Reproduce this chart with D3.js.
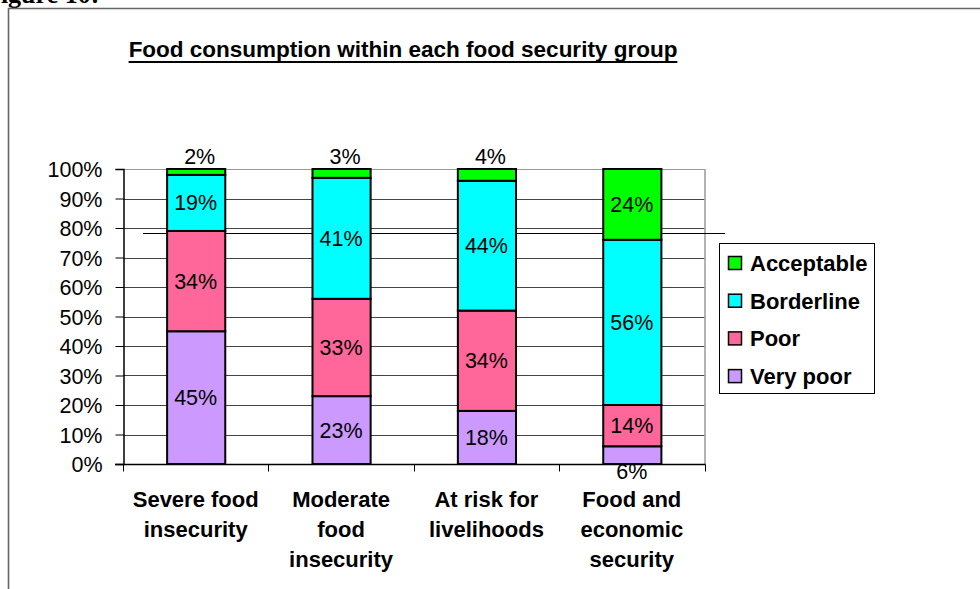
<!DOCTYPE html>
<html>
<head>
<meta charset="utf-8">
<script src="https://cdn.jsdelivr.net/npm/d3@7"></script>
<style>
  html, body { margin: 0; padding: 0; background: #fff; }
  svg { display: block; }
  text { font-family: "Liberation Sans", Arial, sans-serif; fill: #000; }
</style>
</head>
<body>
<script>
// Food consumption groups (stack order bottom to top)
const groups = ["Very poor", "Poor", "Borderline", "Acceptable"];
const groupColors = ["#CC99FF", "#FF6699", "#00FFFF", "#00FF00"];

// Food security categories (x axis), each label split into lines
const categories = [
  ["Severe food", "insecurity"],
  ["Moderate", "food", "insecurity"],
  ["At risk for", "livelihoods"],
  ["Food and", "economic", "security"]
];

// Share (%) of each consumption group per category
const veryPoor   = [45, 23, 18, 6];
const poor       = [34, 33, 34, 14];
const borderline = [19, 41, 44, 56];
const acceptable = [2, 3, 4, 24];

const yTicks = [0, 10, 20, 30, 40, 50, 60, 70, 80, 90, 100];
const chartTitle = "Food consumption within each food security group";
const figureCaption = "Figure 10:";

const W = 980, H = 589;
const svg = d3.select("body").append("svg").attr("width", W).attr("height", H);

// Caption above the framed figure (partly clipped at page edge)
svg.append("text")
  .attr("x", -15).attr("y", 3)
  .style("font-family", "'Liberation Serif', 'Times New Roman', serif")
  .style("font-weight", "bold").style("font-size", "26px")
  .text(figureCaption);

// Figure frame
svg.append("path")
  .attr("d", `M8.5,${H} V8.5 H${W}`)
  .attr("fill", "none").attr("stroke", "#666").attr("stroke-width", 1.6);

// Title
const title = svg.append("text")
  .attr("x", 403).attr("y", 57)
  .attr("text-anchor", "middle")
  .style("font-weight", "bold").style("font-size", "22.5px")
  .text(chartTitle);
const tb = title.node().getBBox();
svg.append("line")
  .attr("x1", tb.x).attr("x2", tb.x + tb.width)
  .attr("y1", 62).attr("y2", 62)
  .attr("stroke", "#000").attr("stroke-width", 1.8);

// Plot area
const plot = { left: 123, right: 704.5, top: 169, bottom: 464 };

const x = d3.scaleBand()
  .domain(d3.range(categories.length))
  .range([plot.left, plot.right])
  .paddingInner(0.6).paddingOuter(0.3);

const y = d3.scaleLinear().domain([0, 100]).range([plot.bottom, plot.top]);

// Gridlines
svg.append("g").selectAll("line").data(yTicks.slice(1)).join("line")
  .attr("x1", plot.left).attr("x2", plot.right)
  .attr("y1", d => Math.round(y(d)) + 0.5).attr("y2", d => Math.round(y(d)) + 0.5)
  .attr("stroke", d => d === 100 ? "#999" : "#444").attr("stroke-width", 1);

// Plot area right border
svg.append("line")
  .attr("x1", plot.right + 0.5).attr("x2", plot.right + 0.5)
  .attr("y1", plot.top).attr("y2", plot.bottom)
  .attr("stroke", "#999").attr("stroke-width", 1.5);

// Stray rule across the plot area
svg.append("line")
  .attr("x1", 143).attr("x2", 725).attr("y1", 233.5).attr("y2", 233.5)
  .attr("stroke", "#000").attr("stroke-width", 1);

// Stacked data
const table = categories.map((c, i) => ({
  "Very poor": veryPoor[i], "Poor": poor[i],
  "Borderline": borderline[i], "Acceptable": acceptable[i], idx: i
}));
const stacked = d3.stack().keys(groups)(table);

const layers = svg.append("g").selectAll("g").data(stacked).join("g")
  .attr("fill", (d, i) => groupColors[i]);

layers.selectAll("rect").data(d => d).join("rect")
  .attr("x", d => x(d.data.idx) + 0.5)
  .attr("width", x.bandwidth())
  .attr("y", d => y(d[1]))
  .attr("height", d => y(d[0]) - y(d[1]))
  .attr("stroke", "#000").attr("stroke-width", 2);

// Value labels
const labels = svg.append("g");
stacked.forEach(layer => {
  layer.forEach(d => {
    const v = d[1] - d[0];
    const cx = x(d.data.idx) + x.bandwidth() / 2;
    let ly;
    if (v < 5) ly = y(d[1]) - 5;          // tiny top segment: above the bar
    else if (v < 10) ly = y(d[0]) + 15;   // tiny bottom segment: below the axis
    else ly = (y(d[0]) + y(d[1])) / 2 + 7.5;
    labels.append("text")
      .attr("x", cx + (v < 5 ? 4 : 0)).attr("y", ly)
      .attr("text-anchor", "middle")
      .style("font-size", "21.5px")
      .text(v + "%");
  });
});

// Y axis
const yAxis = d3.axisLeft(y).tickValues(yTicks).tickSize(8).tickFormat(d => d + "%");
const gy = svg.append("g").attr("transform", `translate(${plot.left + 0.5},0)`).call(yAxis);
gy.select(".domain").attr("stroke", "#000").attr("stroke-width", 1.5);
gy.selectAll(".tick line").attr("stroke", "#000");
gy.selectAll(".tick text")
  .attr("x", -21).attr("dy", "0.35em")
  .style("font-size", "21.5px").style("font-family", "'Liberation Sans', Arial, sans-serif");

// X axis line with ticks at category boundaries
const xBase = Math.round(plot.bottom) + 0.5;
svg.append("line")
  .attr("x1", plot.left - 8).attr("x2", plot.right + 1)
  .attr("y1", xBase).attr("y2", xBase)
  .attr("stroke", "#000").attr("stroke-width", 1.5);
const bounds = d3.range(categories.length + 1).map(i => plot.left + i * x.step());
svg.append("g").selectAll("line").data(bounds).join("line")
  .attr("x1", d => Math.round(d) + 0.5).attr("x2", d => Math.round(d) + 0.5)
  .attr("y1", xBase).attr("y2", xBase + 7)
  .attr("stroke", "#000");

// Category labels
categories.forEach((lines, i) => {
  const t = svg.append("text")
    .attr("text-anchor", "middle")
    .style("font-weight", "bold").style("font-size", "22px");
  lines.forEach((ln, j) => {
    t.append("tspan")
      .attr("x", x(i) + x.bandwidth() / 2)
      .attr("y", 507 + j * 30)
      .text(ln);
  });
});

// Legend (top group first)
const legend = svg.append("g");
legend.append("rect")
  .attr("x", 719.5).attr("y", 243.5).attr("width", 155).attr("height", 150)
  .attr("fill", "#fff").attr("stroke", "#000").attr("stroke-width", 1);
const legendOrder = groups.slice().reverse();
legendOrder.forEach((g, i) => {
  const cy = 263 + i * 37.7;
  legend.append("rect")
    .attr("x", 728.5).attr("y", cy - 6.5).attr("width", 13).attr("height", 13)
    .attr("fill", groupColors[groups.indexOf(g)])
    .attr("stroke", "#000").attr("stroke-width", 1.5);
  legend.append("text")
    .attr("x", 750).attr("y", cy + 8)
    .style("font-weight", "bold").style("font-size", "22px")
    .text(g);
});
</script>
</body>
</html>
